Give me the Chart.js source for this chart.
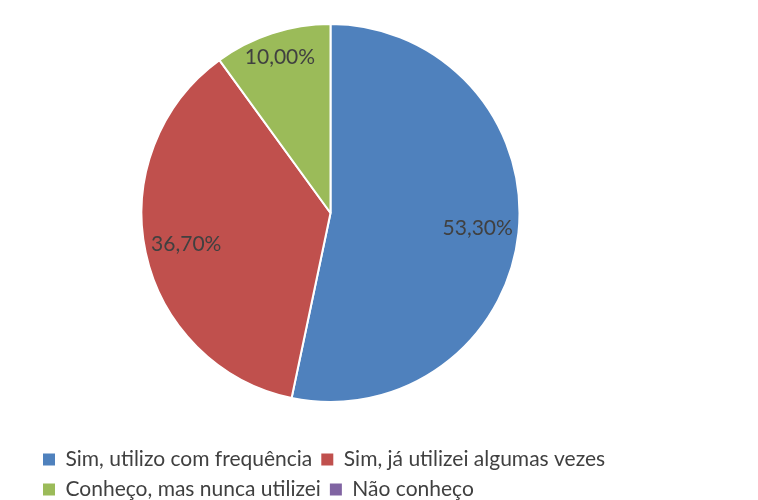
<!DOCTYPE html>
<html>
<head>
<meta charset="utf-8">
<script src="https://cdn.jsdelivr.net/npm/chart.js@4"></script>
<style>
  html, body { margin: 0; padding: 0; background: #fff; overflow: hidden; }
  #wrap { width: 758px; height: 500px; }
</style>
</head>
<body>
<div id="wrap"><canvas id="myChart"></canvas></div>
<script>
const categories = ['Sim, utilizo com frequência', 'Sim, já utilizei algumas vezes', 'Conheço, mas nunca utilizei', 'Não conheço'];
const shares = [53.3, 36.7, 10.0, 0];
const sliceColors = ['#4F81BD', '#C0504D', '#9BBB59', '#8064A2'];

const FONT = 'Lato, "Liberation Sans", sans-serif';

// empty boxes that push the pie into the same place as the original
function spacerBox(position, size) {
    return {
        position: position, weight: 0, fullSize: false,
        options: {},
        isHorizontal() { return position === 'top' || position === 'bottom'; },
        update(maxWidth, maxHeight) {
            if (this.isHorizontal()) { this.width = maxWidth; this.height = size; }
            else { this.width = size; this.height = maxHeight; }
        },
        draw() {}
    };
}
const spacers = {
    id: 'spacers',
    beforeInit(chart) {
        Chart.layouts.addBox(chart, spacerBox('right', 131));
        Chart.layouts.addBox(chart, spacerBox('bottom', 37));
    }
};

// "inside end" labels: the text box is pushed out until it touches the rim
const sliceLabels = {
    id: 'sliceLabels',
    afterDatasetsDraw(chart) {
        const ctx = chart.ctx;
        const meta = chart.getDatasetMeta(0);
        ctx.save();
        ctx.font = '21px ' + FONT;
        ctx.fillStyle = '#404040';
        ctx.textAlign = 'center';
        ctx.textBaseline = 'middle';
        meta.data.forEach((arc, i) => {
            if (!shares[i]) return;
            const p = arc.getProps(['x', 'y', 'startAngle', 'endAngle', 'outerRadius'], true);
            const mid = (p.startAngle + p.endAngle) / 2;
            const text = shares[i].toFixed(2).replace('.', ',') + '%';
            const dx = Math.cos(mid), dy = Math.sin(mid);
            const halfW = ctx.measureText(text).width / 2, halfH = 10;
            const r = p.outerRadius - 5 - (halfW * Math.abs(dx) + halfH * Math.abs(dy));
            ctx.fillText(text, p.x + dx * r, p.y + dy * r);
        });
        ctx.restore();
    }
};

const ctx = document.getElementById('myChart').getContext('2d');
const myChart = new Chart(ctx, {
    type: 'pie',
    data: {
        labels: categories,
        datasets: [{
            data: shares,
            backgroundColor: sliceColors,
            borderColor: '#ffffff',
            borderWidth: 2
        }]
    },
    options: {
        responsive: true,
        maintainAspectRatio: false,
        animation: false,
        layout: { padding: { left: 34, right: 0, top: 23, bottom: -10 } },
        plugins: {
            tooltip: { enabled: false },
            legend: {
                position: 'bottom',
                align: 'start',
                labels: {
                    boxWidth: 12,
                    boxHeight: 12,
                    padding: 9,
                    color: '#404040',
                    font: { size: 21, family: FONT },
                    generateLabels(chart) {
                        const items = Chart.overrides.pie.plugins.legend.labels.generateLabels(chart);
                        items.forEach(it => { it.lineWidth = 0; it.strokeStyle = it.fillStyle; });
                        return items;
                    }
                }
            }
        }
    },
    plugins: [spacers, sliceLabels]
});
</script>
</body>
</html>
